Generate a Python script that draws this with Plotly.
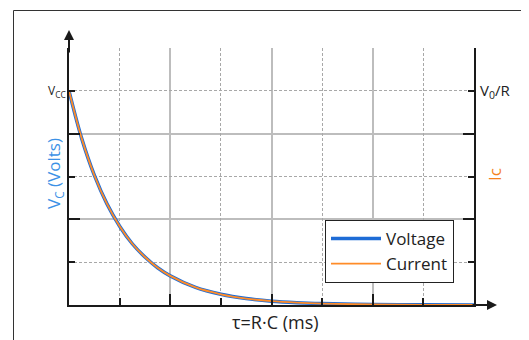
import plotly.graph_objects as go

# Data (time in units of tau, curve height in grid units)
time_tau = [0, 0.25, 0.5, 0.75, 1.0, 1.25, 1.5, 1.75, 2.0, 2.5, 3.0, 3.5, 4.0, 4.5, 5.0, 6.0, 7.0, 8.0]
voltage = [5.0, 3.89, 3.03, 2.36, 1.84, 1.43, 1.12, 0.87, 0.68, 0.41, 0.25, 0.15, 0.09, 0.055, 0.034, 0.012, 0.005, 0.002]
current = [5.0, 3.89, 3.03, 2.36, 1.84, 1.43, 1.12, 0.87, 0.68, 0.41, 0.25, 0.15, 0.09, 0.055, 0.034, 0.012, 0.005, 0.002]

y_dash_ticks = [1, 3, 5]
y_solid_ticks = [0, 2, 4, 6]
x_dash_ticks = [1, 3, 5, 7]
x_solid_ticks = [0, 2, 4, 6, 8]
level_value = 5
left_level_label = "V<sub>CC</sub>"
right_level_label = "V<sub>0</sub>/R"

FONT = "Open Sans"
BLUE = "rgb(30,108,214)"
ORANGE = "rgb(255,140,40)"
AX = "#1a1a1a"

OFF = 8  # page body margin
W, H = 529 - OFF, 340 - OFF
L, T = 69 - OFF, 48 - OFF
R = W - (474 - OFF)
B = H - (305 - OFF)
pw, ph = W - L - R, H - T - B

def px(xs):
    return (xs - OFF - L) / pw

def py(ys):
    return (H - B - (ys - OFF)) / ph

fig = go.Figure()
fig.add_trace(go.Scatter(x=time_tau, y=voltage, name="Voltage", mode="lines",
                         line=dict(color=BLUE, width=3.5, shape="spline"), yaxis="y"))
fig.add_trace(go.Scatter(x=time_tau, y=current, name="Current", mode="lines",
                         line=dict(color=ORANGE, width=1.8, shape="spline"), yaxis="y2"))

dash_grid = dict(showgrid=True, gridcolor="#a8a8a8", gridwidth=1, griddash="3px,2px")
solid_minor = dict(ticks="inside", ticklen=11, tickwidth=2, tickcolor=AX, showgrid=True,
                   gridcolor="#bdbdbd", gridwidth=2, griddash="solid", tickmode="array")

fig.update_layout(
    width=W, height=H,
    margin=dict(l=L, r=R, t=T, b=B),
    paper_bgcolor="white", plot_bgcolor="white",
    font=dict(family=FONT, color="#222", size=12),
    xaxis=dict(
        range=[0, 8], showline=True, linecolor=AX, linewidth=2,
        tickmode="array", tickvals=x_dash_ticks, showticklabels=False,
        ticks="inside", ticklen=7, tickwidth=1.5, tickcolor=AX,
        zeroline=False, **dash_grid,
        minor=dict(tickvals=x_solid_ticks, **solid_minor),
    ),
    yaxis=dict(
        range=[0, 6], showline=True, linecolor=AX, linewidth=2,
        tickmode="array", tickvals=y_dash_ticks, showticklabels=False,
        ticks="inside", ticklen=6, tickwidth=2, tickcolor=AX,
        zeroline=False, **dash_grid,
        minor=dict(tickvals=y_solid_ticks, **solid_minor),
    ),
    yaxis2=dict(
        range=[0, 6], overlaying="y", side="right", showline=True, linecolor=AX, linewidth=2,
        tickmode="array", tickvals=y_dash_ticks, showticklabels=False,
        ticks="inside", ticklen=6, tickwidth=2, tickcolor=AX,
        showgrid=False, zeroline=False,
        minor=dict(tickmode="array", tickvals=y_solid_ticks, ticks="inside", ticklen=11,
                   tickwidth=2, tickcolor=AX, showgrid=False),
    ),
    legend=dict(
        x=px(454), y=py(283), xanchor="right", yanchor="bottom",
        bgcolor="white", bordercolor="#222", borderwidth=1,
        font=dict(size=17, color="#222"), tracegroupgap=0, itemwidth=50,
    ),
    showlegend=True,
)

fig.add_annotation(text=left_level_label, xref="paper", yref="y", x=px(68), y=level_value,
                   showarrow=False, xanchor="right", yanchor="middle",
                   font=dict(size=12, color="#222"))
fig.add_annotation(text=right_level_label, xref="paper", yref="y", x=px(478), y=level_value,
                   showarrow=False, xanchor="left", yanchor="middle",
                   font=dict(size=15, color="#222"))
fig.add_annotation(text="V<sub>C</sub> (Volts)", xref="paper", yref="paper",
                   x=px(54), y=py(174), textangle=-90, showarrow=False,
                   font=dict(size=17, color="rgb(60,145,230)"), xanchor="center", yanchor="middle")
fig.add_annotation(text="Ic", xref="paper", yref="paper",
                   x=px(494), y=py(175), textangle=-90, showarrow=False,
                   font=dict(size=17, color="rgb(245,130,30)"), xanchor="center", yanchor="middle")
fig.add_annotation(text="τ=R·C (ms)", xref="paper", yref="paper",
                   x=px(275), y=py(322), showarrow=False,
                   font=dict(size=18, color="#222"), xanchor="center", yanchor="middle")

# axis arrows
fig.add_annotation(text="", xref="x", yref="paper", x=0, y=py(30), ax=0, ay=24,
                   showarrow=True, arrowhead=2, arrowsize=1, arrowwidth=2, arrowcolor=AX, standoff=0)
fig.add_annotation(text="", xref="paper", yref="y", x=px(497), y=0, ax=-26, ay=0,
                   showarrow=True, arrowhead=2, arrowsize=1, arrowwidth=2, arrowcolor=AX, standoff=0)

# outer frame
fig.add_shape(type="rect", xref="paper", yref="paper",
              x0=px(13.5), y0=-0.3, x1=1.3, y1=py(10.5),
              line=dict(color="#333", width=1), layer="below")

fig.write_html("out.html")
